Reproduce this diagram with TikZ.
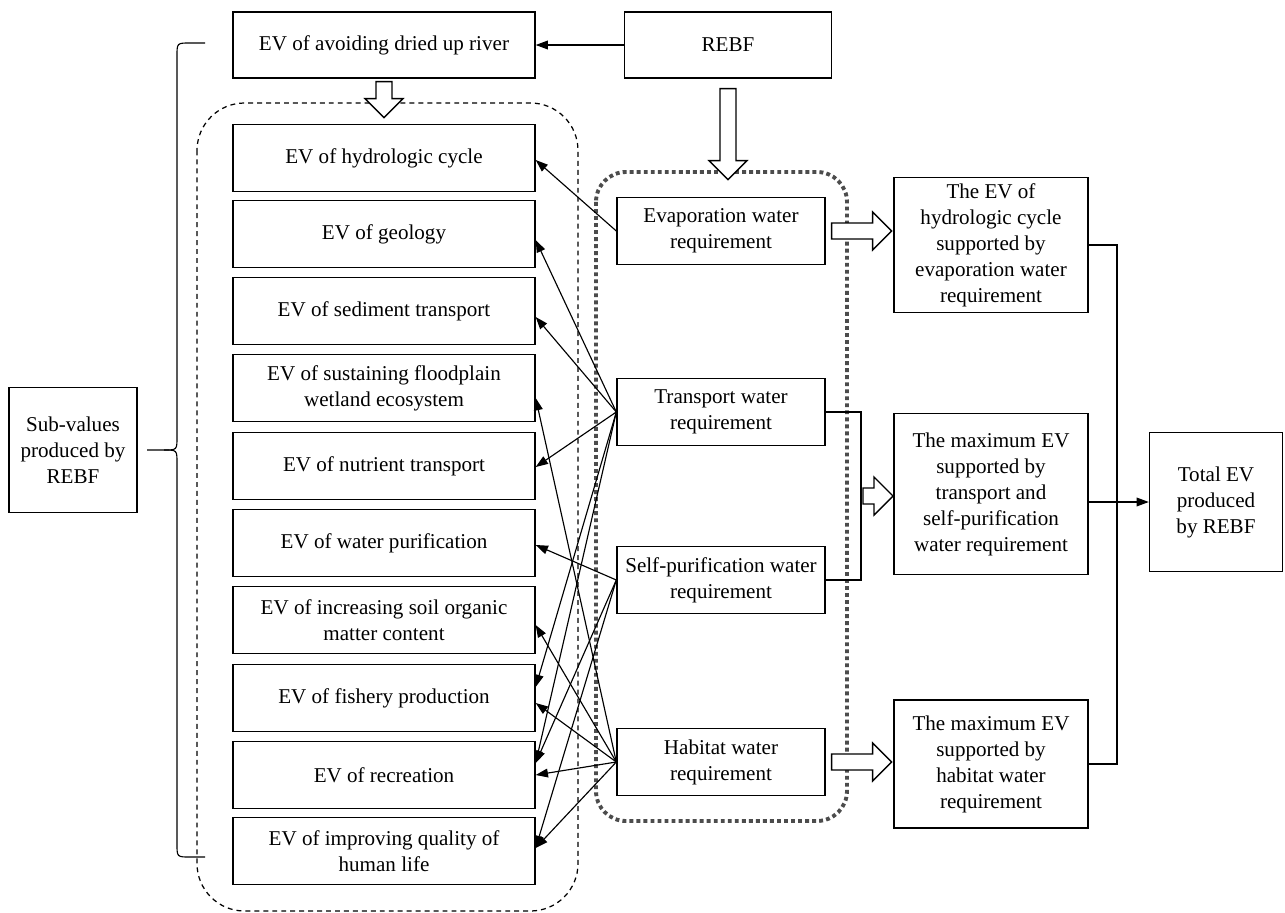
\documentclass[tikz,border=0pt]{standalone}
\usepackage{fontspec}
\setmainfont{Liberation Serif}
\usetikzlibrary{calc,arrows.meta}
\tikzset{
  box/.style={draw, line width=0.8pt, align=center, inner xsep=1pt, font=\fontsize{12}{14.8}\selectfont},
  evbox/.style={box, minimum width=6.04cm, minimum height=1.34cm},
  reqbox/.style={box, minimum width=4.16cm, minimum height=1.34cm},
  sumbox/.style={box, minimum width=3.88cm},
  link/.style={line width=0.65pt},
  arr/.style={link, -{Triangle[length=7pt,width=5pt]}},
  fat/.style={draw, fill=white, line width=0.8pt, line join=miter},
  dashgroup/.style={draw, line width=0.7pt, dash pattern=on 2.8pt off 2.3pt, rounded corners=0.95cm},
  dotgroup/.style={draw=black!70, line width=2.2pt, dash pattern=on 2.2pt off 1.8pt, rounded corners=0.6cm},
}
% hollow block arrow: tail point, direction, length in cm
\newcommand{\fatarrow}[3]{%
  \begin{scope}[shift={(#1)}, rotate=#2, x=1cm, y=1cm]
    \draw[fat] (0,-0.16) -- ({#3-0.38},-0.16) -- ({#3-0.38},-0.38) -- (#3,0)
      -- ({#3-0.38},0.38) -- ({#3-0.38},0.16) -- (0,0.16) -- cycle;
  \end{scope}}

\begin{document}
\begin{tikzpicture}[x=0.02cm, y=-0.02cm]
  \useasboundingbox (0,0) rectangle (1285,913);
  % groups
  \draw[dashgroup] (197,103) rectangle (578,911);
  \draw[dotgroup] (596,172) rectangle (847,821);
  % top row
  \node[evbox, minimum height=1.32cm] (dry) at (384,45) {EV of avoiding dried up river};
  \node[box, minimum width=4.14cm, minimum height=1.32cm] (rebf) at (728,45) {REBF};
  \draw[arr] (rebf.west) -- (dry.east);
  % sub-values
  \foreach \name/\ypos/\txt in {
    hyd/158/{EV of hydrologic cycle},
    geo/234/{EV of geology},
    sed/311/{EV of sediment transport},
    flo/388/{EV of sustaining floodplain\\wetland ecosystem},
    nut/466/{EV of nutrient transport},
    pur/543/{EV of water purification},
    soil/620/{EV of increasing soil organic\\matter content},
    fish/698/{EV of fishery production},
    rec/775/{EV of recreation},
    life/851/{EV of improving quality of\\human life}}
    \node[evbox] (\name) at (384,\ypos) {\txt};
  % water requirements
  \node[reqbox] (eva) at (721,231) {Evaporation water\\requirement};
  \node[reqbox] (tra) at (721,412) {Transport water\\requirement};
  \node[reqbox] (spu) at (721,580) {Self-purification water\\requirement};
  \node[reqbox] (hab) at (721,762) {Habitat water\\requirement};
  \foreach \src/\dst/\dy in {eva/hyd/2, tra/geo/6, tra/sed/6, tra/nut/1, tra/fish/-11,
      tra/rec/-12, spu/pur/2, spu/rec/-12, spu/life/-3, hab/flo/10, hab/soil/5,
      hab/fish/5, hab/rec/0, hab/life/-3}
    \draw[arr] (\src.west) -- ($(\dst.east)+(0,\dy)$);
  % right side
  \node[sumbox, minimum height=2.6cm] (sev) at (991,245)
    {The EV of\\hydrologic cycle\\supported by\\evaporation water\\requirement};
  \node[sumbox, minimum height=3.22cm] (sts) at (991,494)
    {The maximum EV\\supported by\\transport and\\self-purification\\water requirement};
  \node[sumbox, minimum height=2.56cm] (shab) at (991,764)
    {The maximum EV\\supported by\\habitat water\\requirement};
  \node[box, minimum width=2.66cm, minimum height=2.78cm] (tot) at (1216,502) {Total EV\\produced\\by REBF};
  \node[box, minimum width=2.56cm, minimum height=2.5cm] (sub) at (73,450) {Sub-values\\produced by\\REBF};
  \coordinate (brk) at (861,496);
  \draw[link] (tra.east) -| (brk) |- (spu.east);
  \coordinate (bus) at (1117,502);
  \draw[link] (sev.east) -| (bus) |- (shab.east);
  \draw[arr] (sts.east |- tot.west) -- (tot.west);
  % brace
  \draw[link] (205,43) -- (190,43) .. controls (177,43) .. (177,56) -- (177,437)
    .. controls (177,450) .. (164,450) -- (147,450);
  \draw[link] (164,450) .. controls (177,450) .. (177,463) -- (177,844)
    .. controls (177,857) .. (190,857) -- (205,857);
  % block arrows
  \fatarrow{$(dry.south)+(0,3)$}{-90}{0.72}
  \fatarrow{$(rebf.south)+(0,10)$}{-90}{1.82}
  \fatarrow{$(eva.east)+(6,0)$}{0}{1.2}
  \fatarrow{$(brk)+(2,0)$}{0}{0.6}
  \fatarrow{$(hab.east)+(6,0)$}{0}{1.2}
\end{tikzpicture}
\end{document}
